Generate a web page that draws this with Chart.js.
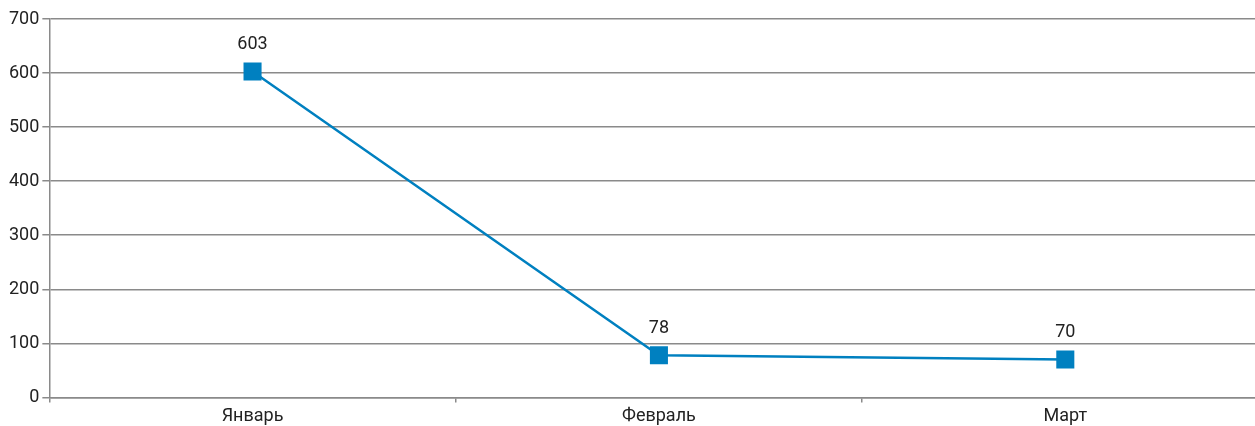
<!DOCTYPE html>
<html>
<head>
<meta charset="utf-8">
<script src="https://cdn.jsdelivr.net/npm/chart.js@4/dist/chart.umd.min.js"></script>
<style>
  html, body { margin: 0; padding: 0; background: #fff; overflow: hidden; }
  #wrap { width: 1282px; height: 430px; }
</style>
</head>
<body>
<div id="wrap"><canvas id="chart"></canvas></div>
<script>
const months = ['Январь', 'Февраль', 'Март'];
const values = [603, 78, 70];
const yTicks = [0, 100, 200, 300, 400, 500, 600, 700];

const lineColor = '#0080c0';
const gridColor = '#8a8a8a';
const textColor = '#222';
const fontFamily = 'Roboto, "Liberation Sans", sans-serif';

// draws the number above each point
const valueLabels = {
    id: 'valueLabels',
    afterDatasetsDraw(chart) {
        const ctx = chart.ctx;
        const meta = chart.getDatasetMeta(0);
        ctx.save();
        ctx.font = '18px ' + fontFamily;
        ctx.fillStyle = textColor;
        ctx.textAlign = 'center';
        ctx.textBaseline = 'bottom';
        meta.data.forEach((pt, i) => {
            ctx.fillText(String(values[i]), pt.x, pt.y - 18);
        });
        ctx.restore();
    }
};

new Chart(document.getElementById('chart'), {
    type: 'line',
    data: {
        labels: months,
        datasets: [{
            data: values,
            borderColor: lineColor,
            backgroundColor: lineColor,
            borderWidth: 2.5,
            pointStyle: 'rect',
            pointRadius: 11,
            pointHoverRadius: 11,
            tension: 0
        }]
    },
    options: {
        responsive: true,
        maintainAspectRatio: false,
        animation: false,
        layout: { padding: { left: 6, right: 0, top: 19, bottom: 0 } },
        plugins: {
            legend: { display: false },
            tooltip: { enabled: false }
        },
        scales: {
            x: {
                offset: true,
                grid: {
                    offset: true,
                    drawOnChartArea: false,
                    color: gridColor,
                    lineWidth: 1.5,
                    tickLength: 5
                },
                border: { color: gridColor, width: 1.5 },
                ticks: {
                    color: textColor,
                    font: { family: fontFamily, size: 18 },
                    padding: 3
                }
            },
            y: {
                min: 0,
                max: 700,
                afterBuildTicks(axis) {
                    axis.ticks = yTicks.map(v => ({ value: v }));
                },
                grid: {
                    color: gridColor,
                    lineWidth: 1.5,
                    tickLength: 7
                },
                border: { color: gridColor, width: 1.5 },
                ticks: {
                    color: textColor,
                    font: { family: fontFamily, size: 18 },
                    padding: 3
                }
            }
        }
    },
    plugins: [valueLabels]
});
</script>
</body>
</html>
